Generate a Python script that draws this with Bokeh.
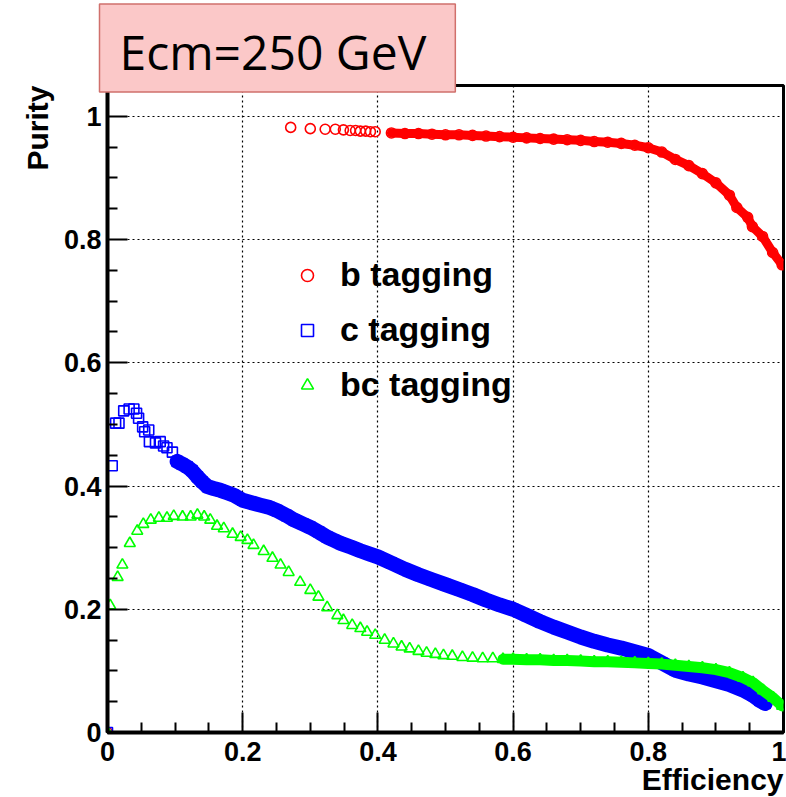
import numpy as np
from bokeh.plotting import figure
from bokeh.models import Range1d, FixedTicker, Legend, LegendItem, Title
from bokeh.embed import file_html
from bokeh.resources import INLINE

# ---------------- data ----------------
b_eff = [0.0, 0.271, 0.300, 0.322, 0.337, 0.349, 0.359, 0.367, 0.374, 0.382, 0.389, 0.396,
         0.42, 0.44, 0.46, 0.48, 0.50, 0.52, 0.54, 0.56, 0.58, 0.60, 0.62, 0.64, 0.66,
         0.68, 0.70, 0.72, 0.74, 0.76, 0.78, 0.80, 0.82, 0.84, 0.86, 0.88, 0.90, 0.92,
         0.931, 0.947, 0.954, 0.969, 0.984, 0.998]
b_pur = [0.0, 0.982, 0.980, 0.979, 0.979, 0.978, 0.977, 0.977, 0.976, 0.976, 0.975, 0.975,
         0.973, 0.972, 0.972, 0.971, 0.970, 0.970, 0.969, 0.968, 0.967, 0.966, 0.965, 0.964, 0.963,
         0.962, 0.961, 0.959, 0.958, 0.956, 0.953, 0.949, 0.942, 0.930, 0.920, 0.907, 0.892, 0.872,
         0.852, 0.836, 0.821, 0.805, 0.779, 0.759]

c_eff = [0.0, 0.007, 0.012, 0.017, 0.024, 0.032, 0.039, 0.043, 0.046, 0.052, 0.055, 0.061,
         0.062, 0.071, 0.078, 0.083, 0.088, 0.096, 0.103, 0.110, 0.118, 0.125, 0.133, 0.140,
         0.148, 0.157, 0.167, 0.177, 0.187, 0.200, 0.213, 0.226, 0.240, 0.251, 0.265, 0.276,
         0.290, 0.300, 0.313, 0.325, 0.335, 0.345, 0.360, 0.374, 0.387, 0.40, 0.42, 0.44,
         0.46, 0.48, 0.50, 0.52, 0.54, 0.56, 0.58, 0.60, 0.62, 0.64, 0.66, 0.68, 0.70, 0.72,
         0.74, 0.76, 0.78, 0.80, 0.82, 0.84, 0.86, 0.88, 0.90, 0.92, 0.94, 0.955, 0.965, 0.973]
c_pur = [0.0, 0.433, 0.502, 0.502, 0.522, 0.525, 0.525, 0.518, 0.510, 0.496, 0.488, 0.491,
         0.472, 0.470, 0.472, 0.465, 0.462, 0.455, 0.440, 0.436, 0.431, 0.425, 0.415, 0.407,
         0.399, 0.396, 0.393, 0.389, 0.385, 0.377, 0.373, 0.369, 0.365, 0.360, 0.352, 0.345,
         0.338, 0.333, 0.325, 0.317, 0.312, 0.307, 0.301, 0.295, 0.290, 0.285, 0.275, 0.265,
         0.256, 0.248, 0.240, 0.232, 0.224, 0.215, 0.207, 0.200, 0.190, 0.180, 0.171, 0.163,
         0.155, 0.148, 0.142, 0.137, 0.131, 0.125, 0.113, 0.101, 0.095, 0.090, 0.084, 0.078,
         0.069, 0.060, 0.052, 0.047]

bc_eff = [0.0, 0.004, 0.015, 0.022, 0.033, 0.044, 0.053, 0.064, 0.076, 0.088, 0.098, 0.111,
          0.123, 0.133, 0.143, 0.152, 0.162, 0.172, 0.185, 0.197, 0.207, 0.216, 0.231, 0.244,
          0.256, 0.268, 0.285, 0.300, 0.312, 0.325, 0.340, 0.349, 0.362, 0.374, 0.384, 0.396,
          0.410, 0.423, 0.435, 0.447, 0.460, 0.472, 0.485, 0.497, 0.510, 0.525, 0.540, 0.555,
          0.570, 0.585, 0.60, 0.62, 0.64, 0.66, 0.68, 0.70, 0.72, 0.74, 0.76, 0.78, 0.80,
          0.82, 0.84, 0.86, 0.88, 0.90, 0.92, 0.94, 0.955, 0.97, 0.985, 0.998]
bc_pur = [0.0, 0.206, 0.252, 0.272, 0.307, 0.327, 0.338, 0.345, 0.348, 0.348, 0.351, 0.350,
          0.350, 0.353, 0.350, 0.345, 0.335, 0.331, 0.322, 0.317, 0.312, 0.304, 0.294, 0.283,
          0.272, 0.260, 0.244, 0.231, 0.220, 0.203, 0.190, 0.182, 0.174, 0.169, 0.163, 0.158,
          0.150, 0.144, 0.139, 0.136, 0.132, 0.129, 0.127, 0.125, 0.124, 0.122, 0.121, 0.120,
          0.120, 0.119, 0.119, 0.118, 0.118, 0.117, 0.117, 0.116, 0.115, 0.115, 0.114, 0.113,
          0.112, 0.111, 0.109, 0.107, 0.105, 0.102, 0.097, 0.089, 0.081, 0.068, 0.056, 0.043]

series_names = ["b tagging", "c tagging", "bc tagging"]
tick_values = [0.0, 0.2, 0.4, 0.6, 0.8, 1.0]
tick_labels = ["0", "0.2", "0.4", "0.6", "0.8", "1"]
minor_values = [0.05, 0.1, 0.15, 0.25, 0.3, 0.35, 0.45, 0.5, 0.55,
                0.65, 0.7, 0.75, 0.85, 0.9, 0.95]
x_title = "Efficiency"
y_title = "Purity"
box_title = "Ecm=250 GeV"

# ---------------- figure ----------------
W, H = 786, 797
p = figure(width=W, height=H, output_backend="svg", toolbar_location=None,
           x_range=Range1d(0, 1.0), y_range=Range1d(0, 1.05),
           min_border_left=107, min_border_right=3, min_border_top=85,
           min_border_bottom=65)
p.background_fill_color = "white"
p.border_fill_color = "white"
p.outline_line_color = "black"
p.outline_line_width = 3

ticker = FixedTicker(ticks=tick_values, minor_ticks=minor_values)
overrides = {v: s for v, s in zip(tick_values, tick_labels)}
for ax in (p.xaxis[0], p.yaxis[0]):
    ax.ticker = ticker
    ax.major_label_overrides = overrides
    ax.axis_line_width = 4
    ax.axis_line_color = "black"
    ax.major_tick_in = 20
    ax.major_tick_out = 0
    ax.minor_tick_in = 10
    ax.minor_tick_out = 0
    ax.major_tick_line_width = 2
    ax.minor_tick_line_width = 2
    ax.major_label_text_font = "Liberation Sans"
    ax.major_label_text_font_style = "bold"
    ax.major_label_text_font_size = "27px"
    ax.major_label_text_color = "black"
p.xaxis[0].major_label_standoff = 9
p.yaxis[0].major_label_standoff = 6

for g in (p.xgrid[0], p.ygrid[0]):
    g.ticker = ticker
    g.grid_line_color = "black"
    g.grid_line_dash = "2 3"
    g.grid_line_width = 1.2

# ---------------- series ----------------
colors = ["#ff0000", "#0000ff", "#00ff00"]
markers = ["circle", "square", "triangle"]
sizes = [10, 10, 11]
band_from = [0.40, 0.10, 0.58]
band_width = [9, 15, 11]
data = [(b_eff, b_pur), (c_eff, c_pur), (bc_eff, bc_pur)]

renderers = []
for (xs, ys), col, mk, sz, bf, bw in zip(data, colors, markers, sizes, band_from, band_width):
    xa = np.array(xs)
    ya = np.array(ys)
    m = xa >= bf
    p.line(xa[m], ya[m], line_color=col, line_width=bw, line_cap="round", line_join="round")
    r = p.scatter(xs, ys, marker=mk, size=sz, fill_color=None, line_color=col,
                  line_width=1.6)
    renderers.append(r)

legend = Legend(items=[LegendItem(label=n, renderers=[r]) for n, r in zip(series_names, renderers)],
                location=(185, 328), orientation="vertical",
                background_fill_alpha=0, border_line_color=None,
                label_text_font="Liberation Sans", label_text_font_style="bold",
                label_text_font_size="34px", label_text_color="black",
                glyph_width=30, glyph_height=36, label_height=36,
                label_standoff=18, spacing=16, padding=0, margin=0)
p.add_layout(legend, "center")


def safe_set(obj, **kw):
    for k, v in kw.items():
        try:
            setattr(obj, k, v)
        except Exception:
            pass


# ---------------- axis titles (right / top aligned) ----------------
xt = Title(text=x_title, align="right", offset=0, text_font="Liberation Sans",
           text_font_style="bold", text_font_size="30px", text_color="black")
safe_set(xt, standoff=-6)
p.add_layout(xt, "below")

yt = Title(text=y_title, align="right", offset=0, text_font="Liberation Sans",
           text_font_style="bold", text_font_size="30px", text_color="black")
safe_set(yt, standoff=14)
p.add_layout(yt, "left")

# ---------------- energy box (title) ----------------
t = Title(text=box_title, align="left", offset=-8,
          text_font="Open Sans", text_font_size="48px", text_font_style="normal",
          text_color="black", background_fill_color="#fbc8c8",
          border_line_color="#d0706c", border_line_width=1.5)
safe_set(t, standoff=-13)
safe_set(t, padding=dict(left=20, right=29, top=15, bottom=8))
p.add_layout(t, "above")

open("out.html", "w").write(file_html(p, INLINE))
